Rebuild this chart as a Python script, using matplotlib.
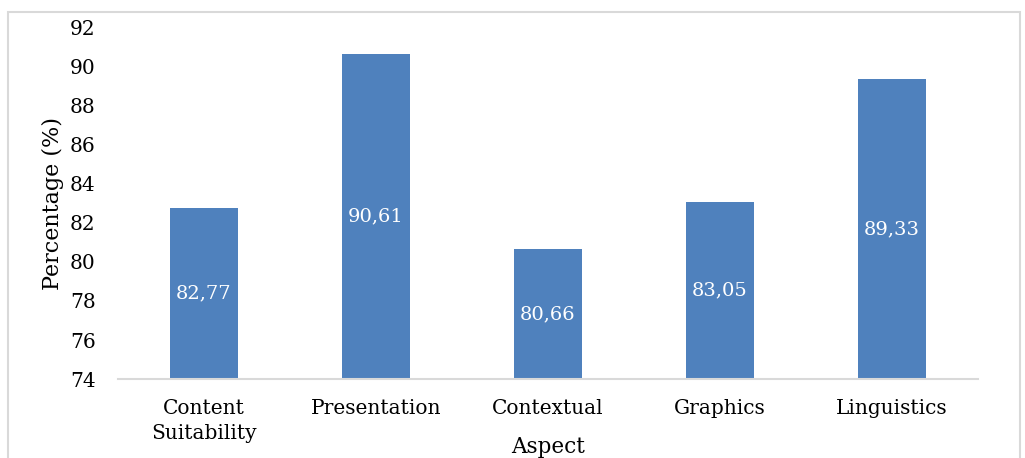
import matplotlib
matplotlib.use('Agg')
import matplotlib.pyplot as plt
from matplotlib.patches import Rectangle

aspects = ['Content\nSuitability', 'Presentation', 'Contextual', 'Graphics', 'Linguistics']
percentages = [82.77, 90.61, 80.66, 83.05, 89.33]
y_ticks = [74, 76, 78, 80, 82, 84, 86, 88, 90, 92]

plt.rcParams['font.family'] = ['DejaVu Serif']

fig = plt.figure(figsize=(10.25, 4.58), dpi=100)
ax = fig.add_axes([0.115, 0.172, 0.839, 0.769])

# chart frame
fig.patches.append(Rectangle((8 / 1025, -0.1), 1012 / 1025, 1 - 12 / 458 + 0.1,
                             transform=fig.transFigure, fill=False,
                             edgecolor='#D9D9D9', linewidth=1.5))

x = range(len(aspects))
ax.bar(x, [v - 74 for v in percentages], bottom=74, width=0.395, color='#4F81BD')

for i, v in enumerate(percentages):
    label = f'{v:.2f}'.replace('.', ',')
    ax.text(i, (74 + v) / 2, label, ha='center', va='center', color='white', fontsize=14)

ax.set_xlim(-0.5, len(aspects) - 0.5)
ax.set_ylim(74, 92)
ax.set_yticks(y_ticks)
ax.set_xticks(list(x))
ax.set_xticklabels(aspects, fontsize=14.5, linespacing=1.45)
ax.tick_params(axis='y', length=0, labelsize=14.5, pad=16)
ax.tick_params(axis='x', length=0, pad=14)

for side in ['top', 'right', 'left']:
    ax.spines[side].set_visible(False)
ax.spines['bottom'].set_color('#D9D9D9')
ax.spines['bottom'].set_linewidth(1.5)

ax.set_ylabel('Percentage (%)', fontsize=16, labelpad=4)
ax.set_xlabel('Aspect', fontsize=15.5, labelpad=-5)

fig.savefig('out.png', dpi=100)
